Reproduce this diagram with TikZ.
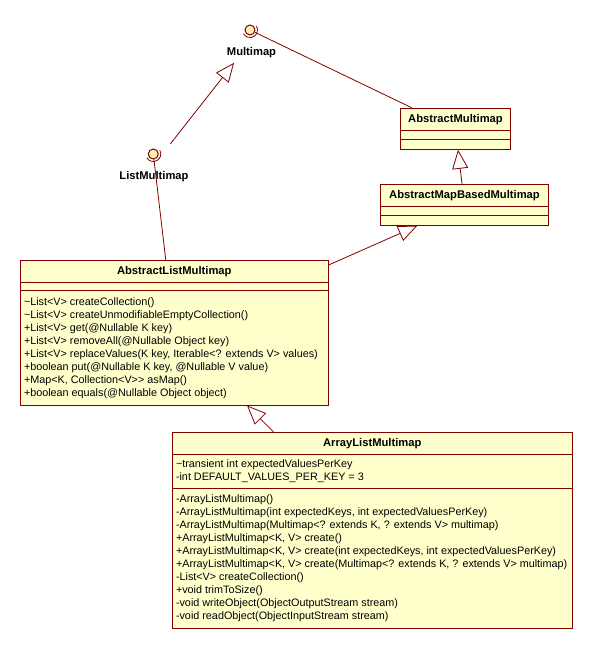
\documentclass[tikz,border=0pt]{standalone}
\usepackage{fontspec}
\setmainfont{Liberation Sans}
\usepackage{xcolor}
\usetikzlibrary{arrows.meta, calc}

\definecolor{umlline}{RGB}{128,0,0}
\definecolor{umlfill}{RGB}{255,255,204}
\definecolor{ifacefill}{RGB}{255,242,180}

\begin{document}
\begin{tikzpicture}[x=1pt, y=-1pt,
  ClassStyle/.style={draw=umlline, fill=umlfill, line width=1pt, inner sep=0pt},
  NameStyle/.style={font=\fontsize{11.2}{13}\selectfont\bfseries, anchor=base, inner sep=0pt},
  MemberStyle/.style={font=\fontsize{10.8}{13}\selectfont, anchor=base west, inner sep=0pt},
  IfaceStyle/.style={circle, draw=umlline, fill=ifacefill, line width=1pt, minimum size=10pt, inner sep=0pt},
  EdgeStyle/.style={draw=umlline, line width=0.8pt},
  GenStyle/.style={EdgeStyle, -{Triangle[open, length=19pt, width=16pt]}}]
\useasboundingbox (0,0) rectangle (593,650);

% interfaces
\node[IfaceStyle] (MM) at (250,30) {};
\draw[umlline, line width=0.8pt] ([shift={(30:7.5pt)}]MM.center) arc[start angle=30, end angle=-150, radius=7.5pt];
\node[NameStyle] (MM-name) at (251.5,56) {Multimap};
\node[IfaceStyle] (LMM) at (153.3,154) {};
\draw[umlline, line width=0.8pt] ([shift={(30:7.5pt)}]LMM.center) arc[start angle=30, end angle=-150, radius=7.5pt];
\node[NameStyle] (LMM-name) at (154,179.3) {ListMultimap};

% classes
\node[ClassStyle, minimum width=109.6pt, minimum height=41pt] (AM) at (455.5,128.8) {};
\node[NameStyle] (AM-name) at ([yshift=-14.5pt]AM.north) {AbstractMultimap};
\draw[umlline] ([yshift=-22pt]AM.north west) -- ([yshift=-22pt]AM.north east);
\draw[umlline] ([yshift=-31pt]AM.north west) -- ([yshift=-31pt]AM.north east);

\node[ClassStyle, minimum width=167.6pt, minimum height=40.6pt] (AMBM) at (464.5,205) {};
\node[NameStyle] (AMBM-name) at ([yshift=-14.5pt]AMBM.north) {AbstractMapBasedMultimap};
\draw[umlline] ([yshift=-22pt]AMBM.north west) -- ([yshift=-22pt]AMBM.north east);
\draw[umlline] ([yshift=-31pt]AMBM.north west) -- ([yshift=-31pt]AMBM.north east);

\node[ClassStyle, minimum width=308pt, minimum height=144.5pt] (ALM) at (174.3,332.75) {};
\node[NameStyle] (ALM-name) at ([yshift=-14.5pt]ALM.north) {AbstractListMultimap};
\draw[umlline] ([yshift=-22pt]ALM.north west) -- ([yshift=-22pt]ALM.north east);
\draw[umlline] ([yshift=-30pt]ALM.north west) -- ([yshift=-30pt]ALM.north east);
\foreach \m [count=\i from 0] in {%
  {\textasciitilde List<V> createCollection()},
  {\textasciitilde List<V> createUnmodifiableEmptyCollection()},
  {+List<V> get(@Nullable K key)},
  {+List<V> removeAll(@Nullable Object key)},
  {+List<V> replaceValues(K key, Iterable<? extends V> values)},
  {+boolean put(@Nullable K key, @Nullable V value)},
  {+Map<K, Collection<V>{}> asMap()},
  {+boolean equals(@Nullable Object object)}}
  \node[MemberStyle] (ALM-m\i) at ([shift={(4pt,{-45pt-13pt*\i})}]ALM.north west) {\m};

\node[ClassStyle, minimum width=400pt, minimum height=196pt] (ALLM) at (372.3,530.3) {};
\node[NameStyle] (ALLM-name) at ([yshift=-14.5pt]ALLM.north) {ArrayListMultimap};
\draw[umlline] ([yshift=-22pt]ALLM.north west) -- ([yshift=-22pt]ALLM.north east);
\draw[umlline] ([yshift=-56pt]ALLM.north west) -- ([yshift=-56pt]ALLM.north east);
\foreach \a [count=\i from 0] in {%
  {\textasciitilde transient int expectedValuesPerKey},
  {-int DEFAULT\_VALUES\_PER\_KEY = 3}}
  \node[MemberStyle] (ALLM-a\i) at ([shift={(4pt,{-36pt-13pt*\i})}]ALLM.north west) {\a};
\foreach \m [count=\i from 0] in {%
  {-ArrayListMultimap()},
  {-ArrayListMultimap(int expectedKeys, int expectedValuesPerKey)},
  {-ArrayListMultimap(Multimap<? extends K, ? extends V> multimap)},
  {+ArrayListMultimap<K, V> create()},
  {+ArrayListMultimap<K, V> create(int expectedKeys, int expectedValuesPerKey)},
  {+ArrayListMultimap<K, V> create(Multimap<? extends K, ? extends V> multimap)},
  {-List<V> createCollection()},
  {+void trimToSize()},
  {-void writeObject(ObjectOutputStream stream)},
  {-void readObject(ObjectInputStream stream)}}
  \node[MemberStyle] (ALLM-m\i) at ([shift={(4pt,{-71pt-13pt*\i})}]ALLM.north west) {\m};

% connectors
\draw[EdgeStyle] (MM) -- (AM);
\draw[EdgeStyle] (LMM) -- (ALM);
\draw[GenStyle, shorten <=27pt, shorten >=27pt] ($(LMM)!.5!(LMM-name)$) -- ($(MM)!.5!(MM-name)$);
\draw[GenStyle] (AMBM) -- (AM);
\draw[GenStyle] (ALM) -- (AMBM);
\draw[GenStyle] (ALLM) -- (ALM);
\end{tikzpicture}
\end{document}
